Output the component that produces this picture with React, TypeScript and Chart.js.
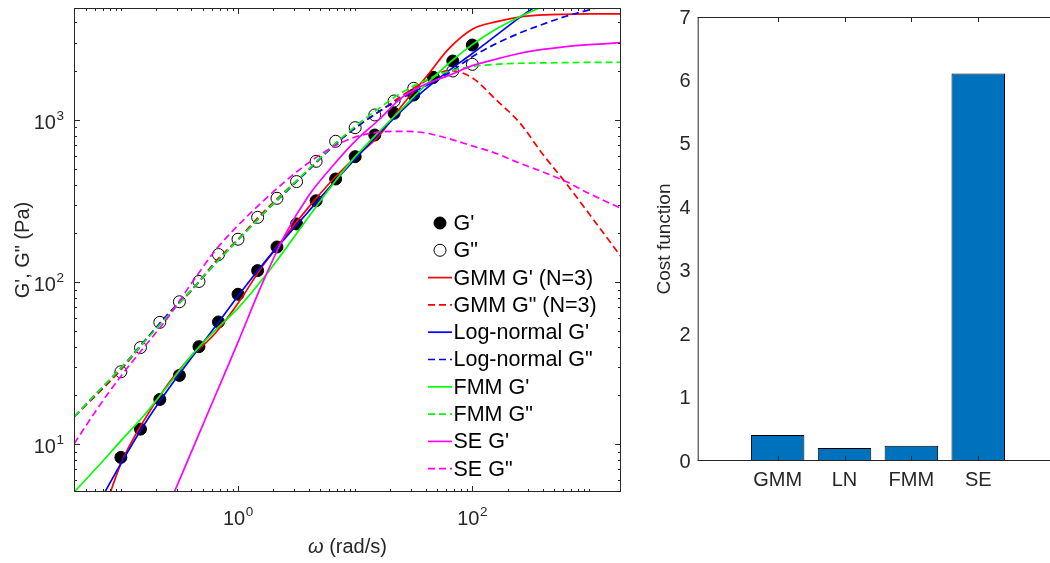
import React, { useEffect, useRef } from 'react';
import { Chart, registerables } from 'chart.js';

Chart.register(...registerables);

const FONT = '"Liberation Sans", Arial, Helvetica, sans-serif';
const INK = '#262626';

// ---------- Left panel: measured moduli ----------
const omegaData = [0.1, 0.147, 0.215, 0.316, 0.464, 0.681, 1, 1.47, 2.15, 3.16, 4.64, 6.81, 10, 14.7, 21.5, 31.6, 46.4, 68.1, 100];
const gPrimeData = [8.3, 12.4, 18.9, 26.6, 40, 56.8, 84.2, 117.8, 164.8, 228.5, 317.7, 432.7, 594, 808, 1100, 1426, 1833, 2311, 2899];
const gDoublePrimeData = [28, 39.5, 56.5, 75.7, 101, 148, 184, 251, 329, 417, 556, 739, 897, 1074, 1310, 1568, 1830, 2005, 2204];

// ---------- Left panel: model fits ----------
const omegaFit = [0.04, 0.063, 0.1, 0.158, 0.251, 0.398, 0.631, 1, 1.585, 2.512, 3.981, 6.31, 10, 15.85, 25.12, 39.81, 63.1, 100, 158.5, 251.2, 398.1, 631, 1000, 1860];
const gmmGp = [1.15, 2.9, 7.6, 14.1, 23.4, 34.7, 47.9, 74.1, 123, 190.5, 288, 422, 589, 794, 1230, 1820, 2754, 3631, 4027, 4315, 4446, 4487, 4508, 4508];
const gmmGpp = [14.8, 20.4, 28.8, 42.7, 63.1, 88.1, 131.8, 184, 263, 363, 490, 684, 891, 1122, 1413, 1738, 2018, 1820, 1337, 970, 617, 407, 262, 143.6];
const lnGp = [2.24, 4.17, 7.6, 13.2, 21.6, 33.9, 52.5, 82.2, 125.9, 186, 272, 398, 575, 822, 1148, 1549, 2018, 2570, 3311, 4266, 5370, 6761, 8318, 11220];
const lnGpp = [14.8, 20.9, 29.5, 43.2, 63.1, 89.1, 128.8, 182, 257, 355, 490, 676, 891, 1122, 1365, 1622, 1950, 2455, 2951, 3428, 3890, 4365, 4786, 5495];
const fmmGp = [5.08, 7.24, 10.5, 15.1, 22.9, 35.1, 50.1, 69.2, 102.3, 158.5, 251.2, 393.6, 594, 841, 1175, 1641, 2239, 2917, 3631, 4315, 5012, 5754, 6457, 7413];
const fmmGpp = [14.8, 20.9, 29.5, 42.7, 61.7, 89.1, 128.8, 182, 257, 359, 495, 684, 912, 1175, 1479, 1758, 1995, 2138, 2203, 2239, 2249, 2259, 2265, 2270];
const seGp = [0.178, 0.389, 0.851, 1.86, 4.07, 8.91, 19.5, 42.7, 95.5, 195, 339, 513, 741, 1000, 1380, 1660, 1884, 2163, 2371, 2570, 2723, 2838, 2917, 2999];
const seGpp = [10.1, 16.6, 26.3, 39.8, 60.3, 97.7, 155, 224, 309, 417, 543, 676, 785, 841, 851, 832, 767, 692, 624, 543, 479, 417, 351, 285];

// tick labels (powers of ten)
const xTickExponents = [0, 2];
const yTickExponents = [1, 2, 3];

// ---------- Right panel ----------
const costCategories = ['GMM', 'LN', 'FMM', 'SE'];
const costValues = [0.41, 0.205, 0.24, 6.11];
const costTicks = [0, 1, 2, 3, 4, 5, 6, 7];

const crisp = (v: number) => Math.round(v) + 0.5;

function seg(ctx: CanvasRenderingContext2D, x1: number, y1: number, x2: number, y2: number) {
  ctx.beginPath();
  ctx.moveTo(x1, y1);
  ctx.lineTo(x2, y2);
  ctx.stroke();
}

function drawPow(ctx: CanvasRenderingContext2D, exp: number, x: number, y: number, align: 'center' | 'right') {
  ctx.font = `20px ${FONT}`;
  const w1 = ctx.measureText('10').width;
  ctx.font = `13.5px ${FONT}`;
  const w2 = ctx.measureText(String(exp)).width;
  const total = w1 + w2 + 0.5;
  const x0 = align === 'center' ? x - total / 2 : x - total;
  ctx.textAlign = 'left';
  ctx.textBaseline = 'middle';
  ctx.font = `20px ${FONT}`;
  ctx.fillText('10', x0, y);
  ctx.font = `13.5px ${FONT}`;
  ctx.fillText(String(exp), x0 + w1 + 0.5, y - 7);
}

const leftDecor = {
  id: 'leftDecor',
  afterDraw(chart: any) {
    const { ctx, chartArea: a, scales } = chart;
    const xs = scales.x;
    const ys = scales.y;
    ctx.save();
    ctx.strokeStyle = INK;
    ctx.fillStyle = INK;
    ctx.lineWidth = 1;
    ctx.setLineDash([]);
    // box
    seg(ctx, a.left + 0.5, a.top, a.left + 0.5, a.bottom);
    seg(ctx, a.right - 0.5, a.top, a.right - 0.5, a.bottom);
    seg(ctx, a.left, a.top + 0.5, a.right, a.top + 0.5);
    seg(ctx, a.left, a.bottom - 0.5, a.right, a.bottom - 0.5);
    // ticks
    for (let d = -3; d <= 5; d++) {
      for (let m = 1; m <= 9; m++) {
        const v = m * Math.pow(10, d);
        if (v >= xs.min && v <= xs.max) {
          const px = crisp(xs.getPixelForValue(v));
          const len = m === 1 && xTickExponents.includes(d) ? 6 : 3;
          seg(ctx, px, a.bottom, px, a.bottom - len);
          seg(ctx, px, a.top, px, a.top + len);
        }
        if (v >= ys.min && v <= ys.max) {
          const py = crisp(ys.getPixelForValue(v));
          const len = m === 1 && yTickExponents.includes(d) ? 6 : 3;
          seg(ctx, a.left, py, a.left + len, py);
          seg(ctx, a.right, py, a.right - len, py);
        }
      }
    }
    // tick labels
    xTickExponents.forEach((e) => {
      drawPow(ctx, e, xs.getPixelForValue(Math.pow(10, e)), a.bottom + 27, 'center');
    });
    yTickExponents.forEach((e) => {
      drawPow(ctx, e, a.left - 10, ys.getPixelForValue(Math.pow(10, e)) + 3, 'right');
    });
    // x title
    ctx.textBaseline = 'middle';
    ctx.font = `italic 20px ${FONT}`;
    const wOmega = ctx.measureText('\u03c9').width;
    ctx.font = `20px ${FONT}`;
    const rest = ' (rad/s)';
    const wRest = ctx.measureText(rest).width;
    const cx = (a.left + a.right) / 2;
    const x0 = cx - (wOmega + wRest) / 2;
    ctx.textAlign = 'left';
    ctx.font = `italic 20px ${FONT}`;
    ctx.fillText('\u03c9', x0, 547);
    ctx.font = `20px ${FONT}`;
    ctx.fillText(rest, x0 + wOmega, 547);
    // y title
    ctx.save();
    ctx.translate(23, (a.top + a.bottom) / 2);
    ctx.rotate(-Math.PI / 2);
    ctx.textAlign = 'center';
    ctx.fillText('G\', G" (Pa)', 0, 0);
    ctx.restore();
    // legend
    const rowY0 = 223;
    const rowDy = 27.3;
    const lx0 = 428;
    const lx1 = 452;
    chart.data.datasets.forEach((ds: any, i: number) => {
      const y = rowY0 + i * rowDy;
      if (ds.legendKind === 'line') {
        ctx.strokeStyle = ds.borderColor;
        ctx.lineWidth = 1.7;
        ctx.setLineDash(ds.borderDash || []);
        seg(ctx, lx0, y, lx1, y);
        ctx.setLineDash([]);
      } else {
        ctx.beginPath();
        ctx.arc((lx0 + lx1) / 2, y, 6, 0, Math.PI * 2);
        ctx.lineWidth = 1;
        ctx.strokeStyle = '#000';
        if (ds.legendKind === 'filled') {
          ctx.fillStyle = '#000';
          ctx.fill();
        }
        ctx.stroke();
      }
      ctx.fillStyle = '#000';
      ctx.font = `21.5px ${FONT}`;
      ctx.textAlign = 'left';
      ctx.textBaseline = 'middle';
      ctx.fillText(ds.label, lx1 + 1.5, y + 1);
    });
    ctx.restore();
  },
};

const rightDecor = {
  id: 'rightDecor',
  afterDraw(chart: any) {
    const { ctx, chartArea: a, scales } = chart;
    const xs = scales.x;
    const ys = scales.y;
    ctx.save();
    ctx.strokeStyle = INK;
    ctx.fillStyle = INK;
    ctx.lineWidth = 1;
    seg(ctx, a.left + 0.5, a.top, a.left + 0.5, a.bottom);
    seg(ctx, a.left, a.top + 0.5, a.right, a.top + 0.5);
    seg(ctx, a.left, a.bottom - 0.5, a.right, a.bottom - 0.5);
    ctx.font = `20px ${FONT}`;
    ctx.textBaseline = 'middle';
    ctx.textAlign = 'center';
    costCategories.forEach((c, i) => {
      const px = crisp(xs.getPixelForValue(i));
      seg(ctx, px, a.bottom, px, a.bottom - 5);
      seg(ctx, px, a.top, px, a.top + 5);
      ctx.fillText(c, xs.getPixelForValue(i), 480);
    });
    ctx.textAlign = 'right';
    costTicks.forEach((t) => {
      ctx.fillText(String(t), a.left - 7, ys.getPixelForValue(t) + 1);
    });
    ctx.save();
    ctx.translate(25, (a.top + a.bottom) / 2);
    ctx.rotate(-Math.PI / 2);
    ctx.textAlign = 'center';
    ctx.font = `19px ${FONT}`;
    ctx.fillText('Cost function', 0, 0);
    ctx.restore();
    ctx.restore();
  },
};

function pts(xs: number[], ys: number[]) {
  return xs.map((x, i) => ({ x, y: ys[i] }));
}

function fitLine(label: string, ys: number[], color: string, dashed: boolean, order: number) {
  return {
    label,
    data: pts(omegaFit, ys),
    borderColor: color,
    backgroundColor: color,
    borderWidth: 1.7,
    borderDash: dashed ? [7, 4] : [],
    pointRadius: 0,
    cubicInterpolationMode: 'monotone',
    capBezierPoints: false,
    fill: false,
    order,
    legendKind: 'line',
  };
}

function LeftChart() {
  const ref = useRef<HTMLCanvasElement>(null);
  useEffect(() => {
    const chart = new Chart(ref.current as HTMLCanvasElement, {
      type: 'line',
      data: {
        datasets: [
          {
            label: "G'",
            data: pts(omegaData, gPrimeData),
            showLine: false,
            pointRadius: 6,
            pointBackgroundColor: '#000',
            pointBorderColor: '#000',
            pointBorderWidth: 1,
            order: 30,
            legendKind: 'filled',
          } as any,
          {
            label: 'G"',
            data: pts(omegaData, gDoublePrimeData),
            showLine: false,
            pointRadius: 6,
            pointBackgroundColor: 'rgba(0,0,0,0)',
            pointBorderColor: '#000',
            pointBorderWidth: 1,
            order: 29,
            legendKind: 'open',
          } as any,
          fitLine("GMM G' (N=3)", gmmGp, '#FF0000', false, 18),
          fitLine('GMM G" (N=3)', gmmGpp, '#FF0000', true, 17),
          fitLine("Log-normal G'", lnGp, '#0000FF', false, 16),
          fitLine('Log-normal G"', lnGpp, '#0000FF', true, 15),
          fitLine("FMM G'", fmmGp, '#00FF00', false, 14),
          fitLine('FMM G"', fmmGpp, '#00FF00', true, 13),
          fitLine("SE G'", seGp, '#FF00FF', false, 12),
          fitLine('SE G"', seGpp, '#FF00FF', true, 11),
        ] as any,
      },
      options: {
        animation: false,
        responsive: false,
        maintainAspectRatio: false,
        events: [],
        layout: { padding: { left: 74, top: 8, right: 19, bottom: 71 } },
        plugins: { legend: { display: false }, tooltip: { enabled: false } },
        scales: {
          x: { type: 'logarithmic', min: 0.0398, max: 1858, display: false },
          y: { type: 'logarithmic', min: 5.08, max: 4906, display: false },
        },
      },
      plugins: [leftDecor],
    });
    return () => chart.destroy();
  }, []);
  return (
    <canvas
      ref={ref}
      width={640}
      height={563}
      style={{ position: 'absolute', left: 0, top: 0, width: 640, height: 563 }}
    />
  );
}

function RightChart() {
  const ref = useRef<HTMLCanvasElement>(null);
  useEffect(() => {
    const chart = new Chart(ref.current as HTMLCanvasElement, {
      type: 'bar',
      data: {
        datasets: [
          {
            data: costValues.map((v, i) => ({ x: i, y: v })),
            backgroundColor: '#0072BD',
            borderColor: '#000000',
            borderWidth: 1,
            barPercentage: 0.8,
            categoryPercentage: 1,
          },
        ] as any,
      },
      options: {
        animation: false,
        responsive: false,
        maintainAspectRatio: false,
        events: [],
        layout: { padding: { left: 57.7, top: 17, right: 11.8, bottom: 102 } },
        plugins: { legend: { display: false }, tooltip: { enabled: false } },
        scales: {
          x: {
            type: 'linear',
            min: -1.196,
            max: 4.196,
            offset: false,
            display: false,
            afterBuildTicks: (scale: any) => {
              scale.ticks = costCategories.map((_, i) => ({ value: i }));
            },
          },
          y: { type: 'linear', min: 0, max: 7, display: false },
        },
      },
      plugins: [rightDecor],
    });
    return () => chart.destroy();
  }, []);
  return (
    <canvas
      ref={ref}
      width={430}
      height={563}
      style={{ position: 'absolute', left: 640, top: 0, width: 430, height: 563 }}
    />
  );
}

export default function App() {
  return (
    <div
      style={{
        position: 'fixed',
        left: 0,
        top: 0,
        width: 1050,
        height: 563,
        overflow: 'hidden',
        background: '#ffffff',
      }}
    >
      <LeftChart />
      <RightChart />
    </div>
  );
}
